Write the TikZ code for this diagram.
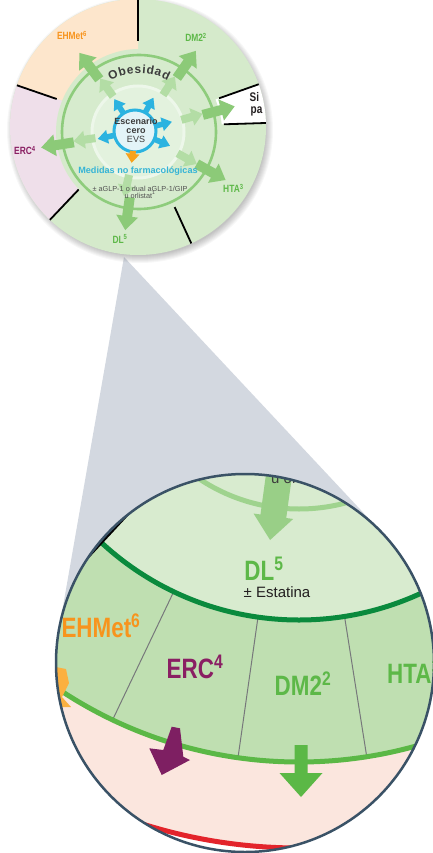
\documentclass[tikz,border=0pt]{standalone}
\usepackage{fontspec}
\setmainfont{Liberation Sans}
\newfontfamily\cnd[FakeStretch=0.8]{Liberation Sans}
\usetikzlibrary{calc,decorations.text}
\definecolor{secgreen}{HTML}{D5EACB}
\definecolor{secorange}{HTML}{FDE6CC}
\definecolor{secpink}{HTML}{EFDFEA}
\definecolor{ringband}{HTML}{D6EBCD}
\definecolor{ringline}{HTML}{8ECC7C}
\definecolor{innerfill}{HTML}{E3F2DE}
\definecolor{innerborder}{HTML}{EDF7EA}
\definecolor{bluefill}{HTML}{E3F4F8}
\definecolor{blueline}{HTML}{2BB3E0}
\definecolor{outerarrow}{HTML}{8CCA78}
\definecolor{innerarrow}{HTML}{B3DDA5}
\definecolor{orangearrow}{HTML}{F7A21B}
\definecolor{textdark}{HTML}{3C3C3C}
\definecolor{textgray}{HTML}{505050}
\definecolor{orangeT}{HTML}{F7941D}
\definecolor{greenT}{HTML}{5DB848}
\definecolor{purpleT}{HTML}{8A1F63}
\definecolor{cyanT}{HTML}{35B4D6}
\definecolor{conegray}{HTML}{D3D8E0}
\definecolor{outline}{HTML}{3A5266}
\definecolor{bigdl}{HTML}{D8EBCF}
\definecolor{bigband}{HTML}{BFDFB1}
\definecolor{darkgreen}{HTML}{0A8A3D}
\definecolor{brightgreen}{HTML}{5BB846}
\definecolor{bigpink}{HTML}{FBE6DE}
\definecolor{bigred}{HTML}{E3242B}
\definecolor{biglight}{HTML}{9FD38E}
\definecolor{bigarrowc}{HTML}{99CF87}
\definecolor{sepgray}{HTML}{77787B}
\definecolor{purpleA}{HTML}{7E1F62}
\definecolor{orangeA}{HTML}{FBB040}
\definecolor{blacktext}{HTML}{231F20}
% #1 centre, #2 angle, #3 r1, #4 r2, #5 shaft half width, #6 head half width, #7 head length, #8 colour
\newcommand\radarrow[8]{%
  \fill[#8, shift={(#1)}, rotate={-(#2)}]
    (#3,#5) -- ({#4-#7},#5) -- ({#4-#7},#6) -- (#4,0) -- ({#4-#7},-#6) -- ({#4-#7},-#5) -- (#3,-#5) -- cycle;}
\begin{document}
\begin{tikzpicture}[x=1pt,y=-1pt,
  toplbl/.style={font=\cnd\bfseries\fontsize{10.5}{11}\selectfont, inner sep=0, anchor=base},
  biglbl/.style={font=\cnd\bfseries\fontsize{28}{28}\selectfont, inner sep=0, anchor=base},
  smalltxt/.style={font=\fontsize{7.3}{8}\selectfont, text=textgray, inner sep=0, anchor=base}]
\useasboundingbox (0,0) rectangle (432,853);
\fill[white] (0,0) rectangle (432,853);

% ---------- cone ----------
\coordinate (apex) at (124,257);
\coordinate (tl) at (58.8,630.6);
\coordinate (tr) at (383.1,533.9);
\fill[conegray] (apex) -- (tl) -- (tr) -- cycle;

% ---------- shadow ----------
\foreach \i in {0,...,7} \fill[black, opacity=0.03] (140,130) circle[radius={126+\i}];

% ---------- top circle ----------
\coordinate (C0) at (138,127);
\coordinate (C1) at (139,132);
\coordinate (C2) at (138,132);
\coordinate (C3) at (135,131);
\begin{scope}
  \clip (C0) circle[radius=128];
  \fill[secgreen] (C0) circle[radius=130];
  \fill[secorange] (C0) -- ($(C0)+(199:150)$) arc[start angle=199, end angle=270, radius=150] -- cycle;
  \fill[secpink] (C0) -- ($(C0)+(133.5:150)$) arc[start angle=133.5, end angle=199, radius=150] -- cycle;
  \fill[white] (C0) -- ($(C0)+(340.5:150)$) arc[start angle=340.5, end angle=358.2, radius=150] -- cycle;
  \foreach \a in {199,270,340.5,358.2,65.4,133.5}
    \draw[black, line width=1.8] ($(C0)+(\a:86)$) -- ($(C0)+(\a:140)$);
  \node[font=\cnd\bfseries\fontsize{12.5}{13}\selectfont, text=blacktext, inner sep=0, anchor=base west] (tS) at (249.5,102) {Si};
  \node[font=\cnd\bfseries\fontsize{12.5}{13}\selectfont, text=blacktext, inner sep=0, anchor=base west] (tpa) at (250.5,114) {pa};
  \fill[secgreen] (C1) circle[radius=83];
  \node[toplbl, text=orangeT] (tEHMet) at (72,40) {EHMet\textsuperscript{6}};
  \node[toplbl, text=greenT] (tDM) at (196,42) {DM2\textsuperscript{2}};
  \node[toplbl, text=purpleT] (tERC) at (25,155) {ERC\textsuperscript{4}};
  \node[toplbl, text=greenT] (tDL) at (120,243) {DL\textsuperscript{5}};
  \node[toplbl, text=greenT, anchor=base west] (tHTA) at (223,193) {HTA\textsuperscript{3}};
\end{scope}

% ring
\fill[ringband] (C1) circle[radius=77];
\fill[innerfill] (C2) circle[radius=47];
\draw[innerborder, line width=3] (C2) circle[radius=46];
\foreach \a in {-126,-57,-16,29,103,172} {\radarrow{C1}{\a}{44}{66}{4}{9}{11}{innerarrow}}
\draw[ringline, line width=2.6] (C1) circle[radius=77];
\foreach \a in {-127,-55,-15,29,98,171} {\radarrow{C1}{\a}{66}{99}{5}{11}{14}{outerarrow}}

\path[decorate, decoration={text along path, text align={fit to path}, text color=textdark,
   text={|\bfseries\fontsize{12}{12}\selectfont|Obesidad}}]
   ($(C1)+(241:59)$) arc[start angle=241, end angle=299, radius=59];

% blue centre
\fill[bluefill] (C3) circle[radius=21];
\draw[blueline, line width=3] (C3) circle[radius=21];
\foreach \a in {-123,-61,-14,23,168} {\radarrow{C3}{\a}{20}{38}{2.8}{7}{10}{blueline}}
\radarrow{C3}{96}{20}{32}{3}{7}{9}{orangearrow}
\node[font=\bfseries\fontsize{9}{9}\selectfont, text=textdark, inner sep=0, anchor=base] (esc) at (136,125) {Escenario};
\node[font=\bfseries\fontsize{9}{9}\selectfont, text=textdark, inner sep=0, anchor=base] (cero) at (136,133.5) {cero};
\node[font=\fontsize{9}{9}\selectfont, text=textdark, inner sep=0, anchor=base] (evs) at (136,142.5) {EVS};
\node[font=\bfseries\fontsize{9.1}{9}\selectfont, text=cyanT, inner sep=0, anchor=base] (med) at (138,174) {Medidas no farmacológicas};
\node[smalltxt] (aglp) at (140,191) {± aGLP-1 o dual aGLP-1/GIP};
\node[smalltxt] (orl) at (140,198) {u orlistat\textsuperscript{1}};

% ---------- big circle ----------
\coordinate (B) at (245,663);
\coordinate (Z) at (299,329);
\begin{scope}
  \clip (B) circle[radius=189];
  \fill[white] (B) circle[radius=190];
  \fill[bigpink] (Z) circle[radius=517];
  \draw[bigred, line width=5] (Z) circle[radius=519];
  \fill[bigband] (Z) circle[radius=433];
  \foreach \a in {115.5,98.1,81}
    \draw[sepgray, line width=1] ($(Z)+(\a:292)$) -- ($(Z)+(\a:432)$);
  \draw[brightgreen, line width=5] (Z) circle[radius=433];
  \fill[bigdl] (Z) circle[radius=291];
  \draw[darkgreen, line width=5] (Z) circle[radius=291];
  \draw[biglight, line width=5] (Z) circle[radius=180];
  \draw[black, line width=3] ($(Z)+(132.8:250)$) -- ($(Z)+(132.8:340)$);
  \radarrow{Z}{97.8}{150}{213}{13}{20}{24}{bigarrowc}
  \node[font=\fontsize{15}{15}\selectfont, text=textdark, inner sep=0, anchor=base west] (borl) at (271,483) {u orlistat\textsuperscript{1}};
  % arrows across the bright arc
  \coordinate (G) at (301,700);
  \radarrow{G}{90}{45}{97}{6.5}{21.5}{24}{brightgreen}
  \fill[purpleA] (171.7,726.7) -- (180,728.3) -- (183.3,756.7) -- (190,760) -- (161.7,775) -- (149.3,748.3) -- (163.3,750) -- cycle;
  \fill[orangeA] (56,667) -- (66,669) -- (69,683) -- (62,697) -- (71,707) -- (55,707) -- cycle;
  % labels
  \node[biglbl, text=greenT] (bDL) at (264,580) {DL\textsuperscript{5}};
  \node[font=\fontsize{15}{15}\selectfont, text=blacktext, inner sep=0, anchor=base] (bEst) at (277,597) {± Estatina};
  \node[biglbl, text=orangeT] (bEHMet) at (101,637) {EHMet\textsuperscript{6}};
  \node[biglbl, text=purpleT] (bERC) at (195,678) {ERC\textsuperscript{4}};
  \node[biglbl, text=greenT] (bDM) at (303,695) {DM2\textsuperscript{2}};
  \node[biglbl, text=greenT, anchor=base west] (bHTA) at (387,683) {HTA\textsuperscript{3}};
\end{scope}
\draw[outline, line width=2.5] (B) circle[radius=189];
\end{tikzpicture}
\end{document}
